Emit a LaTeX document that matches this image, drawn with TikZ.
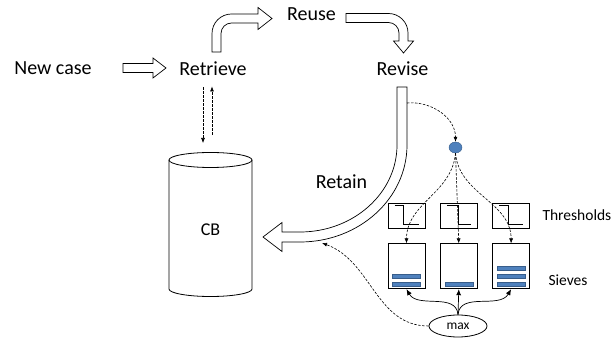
\documentclass[tikz,border=0pt]{standalone}
\usepackage{fontspec}
\setmainfont{Carlito}
\usetikzlibrary{arrows.meta,calc,positioning,shapes.geometric}
\definecolor{sieveblue}{RGB}{79,129,189}
\definecolor{sieveedge}{RGB}{56,93,138}

\begin{document}
\begin{tikzpicture}[
  x=1pt, y=1pt,
  node distance=15pt and 14.5pt,
  lbl/.style={font=\fontsize{20}{24}\selectfont},
  sml/.style={font=\fontsize{15.5}{18}\selectfont},
  blk/.style={draw, fill=white, line width=0.7pt, line join=miter},
  thbox/.style={draw, line width=0.8pt, minimum width=37pt, minimum height=25pt, inner sep=0pt},
  svbox/.style={draw, line width=0.8pt, minimum width=37pt, minimum height=45pt, inner sep=0pt},
  bar/.style={draw=sieveedge, fill=sieveblue, line width=0.4pt},
  dsh/.style={dash pattern=on 2.5pt off 1.5pt, line width=0.6pt, -{Latex[length=5pt,width=4pt]}},
  arr/.style={line width=0.7pt, -{Latex[length=6pt,width=5pt]}}
]
\useasboundingbox (0,0) rectangle (612,345);

% cycle labels
\node[lbl] (newcase) at (53,277) {New case};
\node[lbl] (retrieve) at (213,276) {Retrieve};
\node[lbl] (reuse) at (311.5,330.5) {Reuse};
\node[lbl] (revise) at (402.5,276) {Revise};
\node[lbl] (retain) at (341.5,163) {Retain};

% case base
\draw[line width=0.8pt] (169,185) -- (169,56) arc[start angle=180, end angle=360, x radius=41.5, y radius=7.5] -- (252,185);
\draw[line width=0.8pt] (210.5,185) ellipse[x radius=41.5, y radius=7.5];
\node[font=\fontsize{18}{22}\selectfont] (cb) at (210.5,115) {CB};
\coordinate (cbtop) at (210.5,202);

% hollow arrows
\draw[blk] (123,281.5) -- (153,281.5) -- (153,287) -- (166,277) -- (153,267) -- (153,272.5) -- (123,272.5) -- cycle;
\draw[blk] (212,293) -- (212,311.5) arc[start angle=180, end angle=90, radius=19.5] -- (258,331) -- (258,337.5) -- (272,326.5) -- (258,315.5) -- (258,322) -- (231.5,322) arc[start angle=90, end angle=180, radius=10.5] -- (221,293) -- cycle;
\draw[blk] (346,331.5) -- (388.5,331.5) arc[start angle=90, end angle=0, radius=19.5] -- (408,304) -- (413.5,304) -- (403.5,292) -- (393.5,304) -- (399,304) -- (399,312) arc[start angle=0, end angle=90, radius=10.5] -- (346,322.5) -- cycle;
\draw[blk] (397,258) -- (407,258) -- (407,200) arc[start angle=0, end angle=-90, x radius=107, y radius=97] -- (282,103) -- (282,93.5) -- (263,108) -- (282,122.5) -- (282,113) -- (300,113) arc[start angle=-90, end angle=0, x radius=97, y radius=87] -- cycle;

\draw[dsh] ($(retrieve.south)+(-10,-8)$) -- ($(cbtop)+(-7.5,0)$);
\draw[dsh] ($(cbtop)+(1.5,8)$) -- ($(retrieve.south)+(-1,-7)$);

% thresholds and sieves
\node[thbox] (th1) at (406.5,129.5) {};
\node[thbox, right=of th1] (th2) {};
\node[thbox, right=of th2] (th3) {};
\node[svbox, below=of th1] (sv1) {};
\node[svbox, below=of th2] (sv2) {};
\node[svbox, below=of th3] (sv3) {};
\foreach \i/\s in {1/16,2/18,3/16}
  \draw[line width=0.7pt] ([shift={(7,-3)}]th\i.north west) -- ++(\s-7,0) -- ++(0,-19) -- ++(31-\s,0);
\foreach \i/\n in {1/2,2/1,3/3}
  \foreach \k in {1,...,\n}
    \draw[bar] ([shift={(5,{3+8*(\k-1)})}]sv\i.south west) rectangle ++(28,4);
\node[sml, anchor=west] (thlabel) at (539,130) {Thresholds};
\node[sml, anchor=west] (svlabel) at (545,65) {Sieves};

\node[ellipse, draw=sieveedge, fill=sieveblue, minimum width=13pt, minimum height=11pt, inner sep=0pt] (dot) at (455.5,197.5) {};
\node[ellipse, draw, line width=0.8pt, minimum width=58pt, minimum height=22pt, inner sep=0pt, font=\fontsize{13.5}{16}\selectfont] (max) at (458,19) {max};
\coordinate (rt) at (407,242);
\coordinate (rb) at (322,102);

\draw[dsh] (rt) to[out=5, in=90] (dot.north);
\draw[dsh] (dot.south) to[out=-95, in=90] (sv1.north);
\draw[dsh] (dot.south) -- (sv2.north);
\draw[dsh] (dot.south) to[out=-85, in=90] (sv3.north);
\draw[arr] (max.north) to[out=95, in=-60] (sv1.south);
\draw[arr] (max.north) -- (sv2.south);
\draw[arr] (max.north) to[out=85, in=-120] (sv3.south);
\draw[dsh] (max.west) to[out=180, in=-20] (rb);
\end{tikzpicture}
\end{document}
